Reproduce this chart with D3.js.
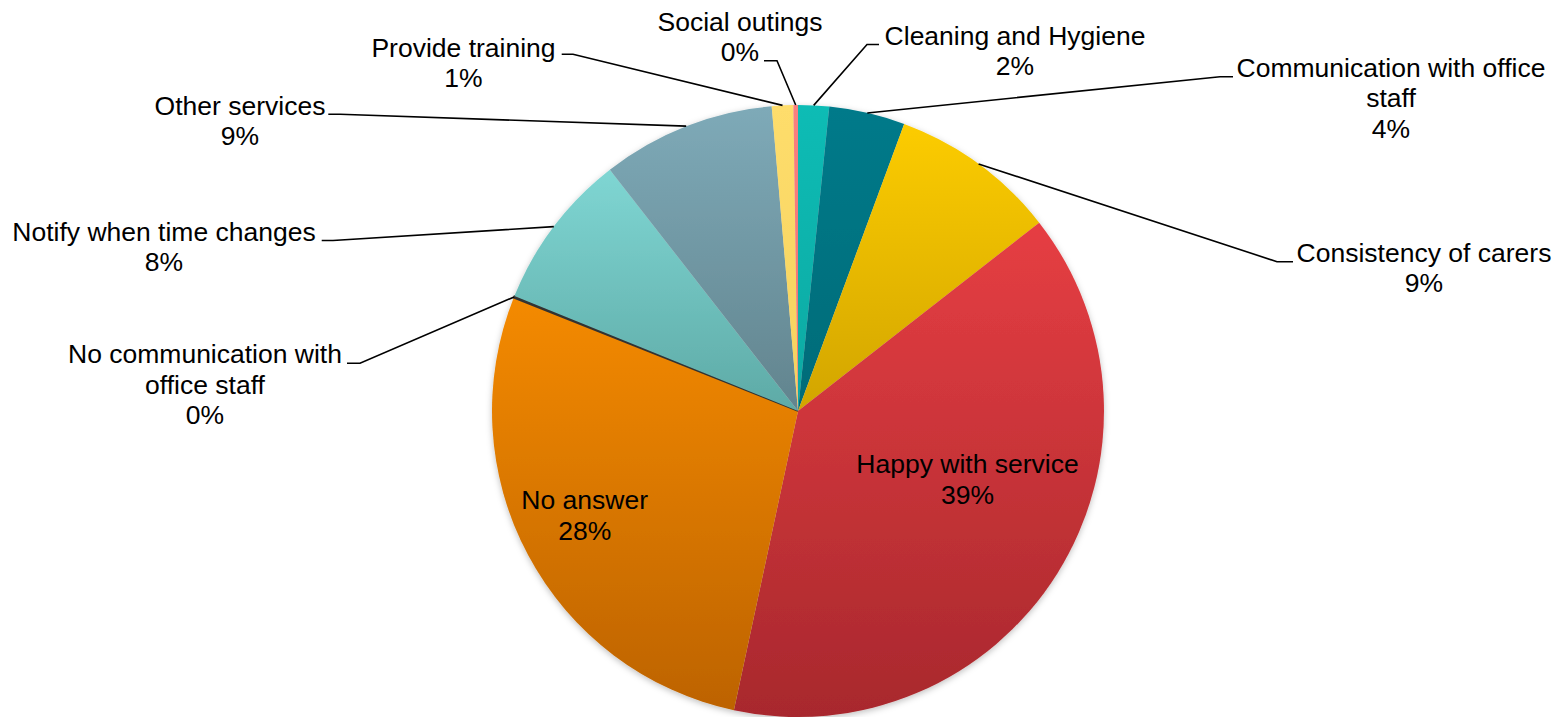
<!DOCTYPE html>
<html>
<head>
<meta charset="utf-8">
<script src="https://cdn.jsdelivr.net/npm/d3@7"></script>
<style>
  body { margin: 0; background: #fff; }
  svg { display: block; }
  text { font-family: Arial, "Liberation Sans", sans-serif; font-size: 26.5px; fill: #000; }
</style>
</head>
<body>
<svg id="chart" width="1564" height="717"></svg>
<script>
// data (clockwise from 12 o'clock)
var categories = ["Cleaning and Hygiene", "Communication with office staff", "Consistency of carers",
  "Happy with service", "No answer", "No communication with office staff",
  "Notify when time changes", "Other services", "Provide training", "Social outings"];
var shares = [1.63, 4.01, 8.81, 38.91, 27.67, 0.10, 8.33, 9.17, 1.13, 0.24];

// slice fills, light (top) to dark (bottom)
var topColors = ["#10bcb5", "#007a8a", "#fccc00", "#e63e43", "#f48a00", "#3a3a3a", "#7fd6d3", "#7eaab8", "#fedd6c", "#f98080"];
var bottomColors = ["#0aa9a2", "#006b78", "#d2a500", "#a8282d", "#bd6300", "#333333", "#5eaaa6", "#62848e", "#f5d25e", "#f07070"];

// label text lines per category
var labelLines = [
  ["Cleaning and Hygiene"],
  ["Communication with office", "staff"],
  ["Consistency of carers"],
  ["Happy with service"],
  ["No answer"],
  ["No communication with", "office staff"],
  ["Notify when time changes"],
  ["Other services"],
  ["Provide training"],
  ["Social outings"]
];

// label layout: text centre, first baseline, leader elbow and tail (null = inside label)
var labelLayout = [
  {x: 1015, y: 45, elbow: [867, 44.5], tail: [879, 44.5]},
  {x: 1391, y: 76.7, elbow: [1220, 76.7], tail: [1233, 76.7]},
  {x: 1424, y: 261.7, elbow: [1277, 261.7], tail: [1293, 261.7]},
  {x: 967.5, y: 473.3, elbow: null},
  {x: 584.7, y: 509.3, elbow: null},
  {x: 205, y: 363.3, elbow: [360, 363.3], tail: [347, 363.3]},
  {x: 164, y: 241, elbow: [333, 240.5], tail: [321.7, 240.5]},
  {x: 240, y: 115, elbow: [340, 114.3], tail: [328.3, 114.3]},
  {x: 463.5, y: 56.7, elbow: [573, 54.3], tail: [561.7, 54.3]},
  {x: 740, y: 31, elbow: [777, 60.7], tail: [764, 60.7]}
];

var cx = 798, cy = 411, radius = 306, lineGap = 30.4;

var svg = d3.select("#chart");
var defs = svg.append("defs");

var shadow = defs.append("filter").attr("id", "shadow")
  .attr("x", "-10%").attr("y", "-10%").attr("width", "120%").attr("height", "120%");
shadow.append("feDropShadow").attr("dx", 0).attr("dy", 2).attr("stdDeviation", 3)
  .attr("flood-color", "#000").attr("flood-opacity", 0.25);

categories.forEach(function(c, i) {
  var g = defs.append("linearGradient").attr("id", "grad" + i)
    .attr("x1", 0).attr("y1", 0).attr("x2", 0).attr("y2", 1);
  g.append("stop").attr("offset", "0%").attr("stop-color", topColors[i]);
  g.append("stop").attr("offset", "100%").attr("stop-color", bottomColors[i]);
});

var total = d3.sum(shares);
var pct = d3.format(".0%");

var pie = d3.pie().sort(null).value(function(d) { return d; });
var arcs = pie(shares);
var arc = d3.arc().innerRadius(0).outerRadius(radius);

var g = svg.append("g").attr("transform", "translate(" + cx + "," + cy + ")");

g.append("g").attr("filter", "url(#shadow)")
  .selectAll("path")
  .data(arcs)
  .enter().append("path")
  .attr("d", arc)
  .attr("fill", function(d, i) { return "url(#grad" + i + ")"; })
  .attr("stroke", function(d, i) { return i === 5 ? "#333" : "none"; })
  .attr("stroke-width", function(d, i) { return i === 5 ? 1.5 : 0; });

// leader lines
arcs.forEach(function(d, i) {
  var L = labelLayout[i];
  if (!L.elbow) return;
  var a = (d.startAngle + d.endAngle) / 2;
  var ex = cx + radius * Math.sin(a), ey = cy - radius * Math.cos(a);
  svg.append("polyline")
    .attr("points", [[ex, ey], L.elbow, L.tail].map(function(p) { return p.join(","); }).join(" "))
    .attr("fill", "none")
    .attr("stroke", "#000")
    .attr("stroke-width", 1.6);
});

// labels
arcs.forEach(function(d, i) {
  var L = labelLayout[i];
  var lines = labelLines[i].concat([pct(shares[i] / total)]);
  var t = svg.append("text").attr("text-anchor", "middle");
  lines.forEach(function(s, k) {
    t.append("tspan").attr("x", L.x).attr("y", L.y + k * lineGap).text(s);
  });
});
</script>
</body>
</html>
